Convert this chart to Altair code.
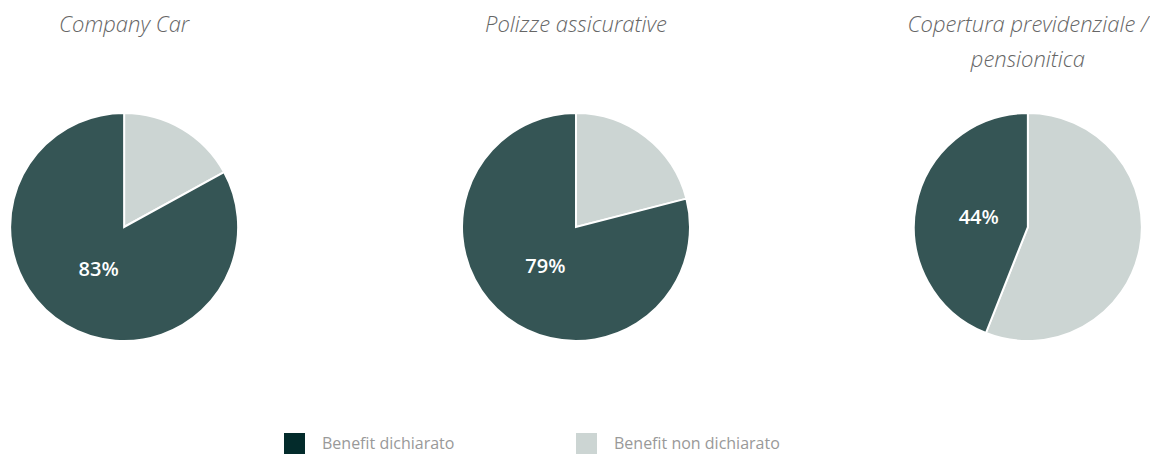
import altair as alt
import pandas as pd

charts = ["Company Car", "Polizze assicurative", "Copertura previdenziale / pensionitica"]
titles = ["Company Car", "Polizze assicurative", "Copertura previdenziale /\npensionitica"]
declared = [83, 79, 44]
not_declared = [17, 21, 56]
categories = ["Benefit dichiarato", "Benefit non dichiarato"]

rows = []
for i, c in enumerate(charts):
    rows.append({"chart": c, "category": categories[1], "value": not_declared[i], "order": 0})
    rows.append({"chart": c, "category": categories[0], "value": declared[i], "order": 1})
df = pd.DataFrame(rows)
tdf = pd.DataFrame({"chart": charts, "title": titles})

xscale = alt.Scale(domain=charts, type="point", padding=0.257)
theta_scale = alt.Scale(domain=[0, 100])

base = alt.Chart(df).transform_window(
    cum="sum(value)", groupby=["chart"], sort=[alt.SortField("order")]
).transform_calculate(
    start="datum.cum - datum.value",
    mid="datum.cum - datum.value / 2",
    label="datum.value + '%'",
)

arcs = base.mark_arc(outerRadius=114, stroke="white", strokeWidth=2).encode(
    x=alt.X("chart:N", scale=xscale, axis=None),
    y=alt.value(219),
    theta=alt.Theta("start:Q", scale=theta_scale),
    theta2="cum:Q",
    color=alt.Color("category:N",
                    scale=alt.Scale(domain=categories, range=["#032b2b", "#ccd5d3"]),
                    legend=alt.Legend(
                        orient="none", legendX=276, legendY=425, direction="horizontal",
                        title=None, symbolType="square", symbolSize=441,
                        symbolStrokeWidth=0, symbolOpacity=1,
                        labelFont="Open Sans", labelFontSize=16, labelColor="#999999",
                        labelOffset=17, columnPadding=121, labelLimit=400,
                    )),
    opacity=alt.condition(alt.datum.category == categories[0], alt.value(0.8), alt.value(1.0)),
)

labels = base.transform_filter(
    alt.datum.category == categories[0]
).mark_text(radius=50, font="Open Sans", fontSize=20, fontWeight=600, color="white").encode(
    x=alt.X("chart:N", scale=xscale, axis=None),
    y=alt.value(219),
    theta=alt.Theta("mid:Q", scale=theta_scale),
    text="label:N",
)

title_layer = alt.Chart(tdf).mark_text(
    font="Open Sans", fontStyle="italic", fontWeight=300, fontSize=22,
    color="#666666", lineBreak="\n", lineHeight=35, baseline="top", align="center",
).encode(
    x=alt.X("chart:N", scale=xscale, axis=None),
    y=alt.value(7),
    text="title:N",
)

chart = alt.layer(arcs, labels, title_layer).properties(
    width=1136, height=436,
    padding={"left": 0, "top": 0, "right": 6, "bottom": 10},
    autosize=alt.AutoSizeParams(type="none"),
).configure_view(stroke=None)

chart.save("out.html", embed_options={"renderer": "svg", "actions": False})
